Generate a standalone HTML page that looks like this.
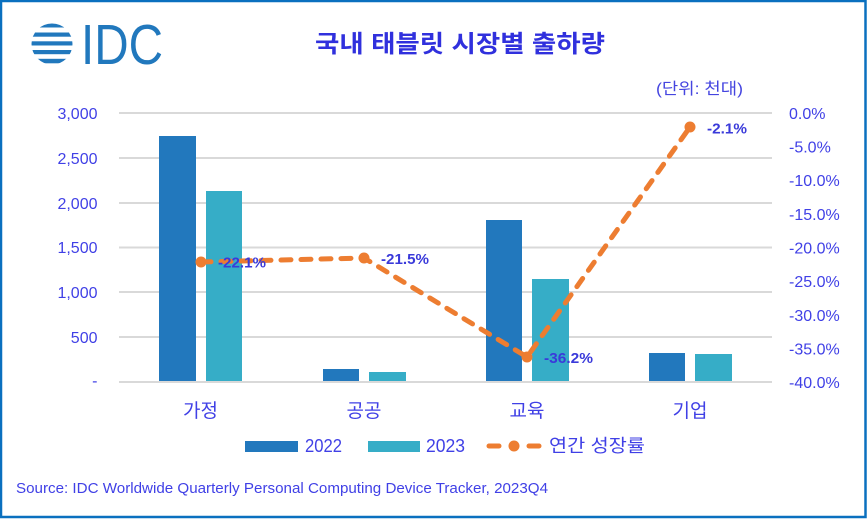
<!DOCTYPE html>
<html><head><meta charset="utf-8"><style>
html,body{margin:0;padding:0;background:#fff;}
svg{display:block;}
text{font-family:"Liberation Sans","Noto Sans CJK KR",sans-serif;}
</style></head><body>
<svg width="867" height="519" viewBox="0 0 867 519" xmlns="http://www.w3.org/2000/svg">
<rect x="0" y="0" width="867" height="519" fill="#fff"/>
<rect x="1" y="1" width="864.5" height="516" fill="none" stroke="#0A70BF" stroke-width="2.5"/>
<!-- logo -->
<defs><clipPath id="g"><circle cx="52" cy="44" r="20.5"/></clipPath></defs>
<g clip-path="url(#g)" fill="#2178BD">
<rect x="30" y="23.5" width="45" height="4"/>
<rect x="30" y="32.5" width="45" height="4.2"/>
<rect x="30" y="41.3" width="45" height="4.2"/>
<rect x="30" y="50" width="45" height="4.2"/>
<rect x="30" y="58.8" width="45" height="4.5"/>
</g>
<text x="81" y="64" font-size="57" fill="#2178BD" textLength="82" lengthAdjust="spacingAndGlyphs">IDC</text>
<!-- title -->
<text x="315" y="52" font-size="24" font-weight="bold" fill="#3030DD" textLength="290" lengthAdjust="spacingAndGlyphs">국내 태블릿 시장별 출하량</text>
<text x="656" y="94" font-size="16" fill="#4545E0" textLength="87" lengthAdjust="spacingAndGlyphs">(단위: 천대)</text>
<!-- grid -->
<g stroke="#D9D9D9" stroke-width="2">
<line x1="119" y1="113" x2="772" y2="113"/>
<line x1="119" y1="158" x2="772" y2="158"/>
<line x1="119" y1="203" x2="772" y2="203"/>
<line x1="119" y1="247.5" x2="772" y2="247.5"/>
<line x1="119" y1="292" x2="772" y2="292"/>
<line x1="119" y1="337" x2="772" y2="337"/>
<line x1="119" y1="382" x2="772" y2="382"/>
</g>
<!-- left ticks -->
<g font-size="16" fill="#4040E6" text-anchor="end">
<text x="97.5" y="119">3,000</text>
<text x="97.5" y="164">2,500</text>
<text x="97.5" y="209">2,000</text>
<text x="97.5" y="253">1,500</text>
<text x="97.5" y="298">1,000</text>
<text x="97.5" y="343">500</text>
<text x="97.5" y="386">-</text>
</g>
<!-- right ticks -->
<g font-size="16" fill="#4040E6">
<text x="789" y="119">0.0%</text>
<text x="789" y="152.6">-5.0%</text>
<text x="789" y="186.2">-10.0%</text>
<text x="789" y="219.9">-15.0%</text>
<text x="789" y="253.5">-20.0%</text>
<text x="789" y="287.1">-25.0%</text>
<text x="789" y="320.8">-30.0%</text>
<text x="789" y="354.4">-35.0%</text>
<text x="789" y="388">-40.0%</text>
</g>
<!-- bars -->
<g fill="#2278BD">
<rect x="159" y="136" width="37" height="245"/>
<rect x="323" y="369" width="36" height="12"/>
<rect x="486" y="220" width="36" height="161"/>
<rect x="649" y="353" width="36" height="28"/>
</g>
<g fill="#36ADC7">
<rect x="206" y="191" width="36" height="190"/>
<rect x="369" y="372" width="37" height="9"/>
<rect x="532" y="279" width="37" height="102"/>
<rect x="695" y="354" width="37" height="27"/>
</g>
<!-- line -->
<polyline points="201,262 364,258 527,357 690,127" fill="none" stroke="#ED7D31" stroke-width="5" stroke-dasharray="10 10" stroke-linecap="round" stroke-linejoin="round"/>
<g fill="#ED7D31">
<circle cx="201" cy="262" r="5.5"/>
<circle cx="364" cy="258" r="5.5"/>
<circle cx="527" cy="357" r="5.5"/>
<circle cx="690" cy="127" r="5.5"/>
</g>
<!-- data labels -->
<g font-size="15" font-weight="bold" fill="#3A3ADA">
<text x="218" y="267.5" textLength="48" lengthAdjust="spacingAndGlyphs">-22.1%</text>
<text x="381" y="264" textLength="48" lengthAdjust="spacingAndGlyphs">-21.5%</text>
<text x="544" y="363" textLength="49" lengthAdjust="spacingAndGlyphs">-36.2%</text>
<text x="707" y="133.5" textLength="40" lengthAdjust="spacingAndGlyphs">-2.1%</text>
</g>
<!-- categories -->
<g font-size="19" fill="#4040E6" text-anchor="middle">
<text x="200.5" y="417">가정</text>
<text x="364" y="417">공공</text>
<text x="527" y="417">교육</text>
<text x="690" y="417">기업</text>
</g>
<!-- legend -->
<rect x="245" y="441" width="53" height="11" fill="#2278BD"/>
<text x="305" y="452" font-size="18" fill="#4040E6" textLength="37" lengthAdjust="spacingAndGlyphs">2022</text>
<rect x="368" y="441" width="52" height="11" fill="#36ADC7"/>
<text x="426" y="452" font-size="18" fill="#4040E6" textLength="39" lengthAdjust="spacingAndGlyphs">2023</text>
<line x1="489" y1="446" x2="499" y2="446" stroke="#ED7D31" stroke-width="5" stroke-linecap="round"/>
<line x1="529" y1="446" x2="539" y2="446" stroke="#ED7D31" stroke-width="5" stroke-linecap="round"/>
<circle cx="514" cy="446" r="5.5" fill="#ED7D31"/>
<text x="549" y="452" font-size="18" fill="#4040E6" textLength="96" lengthAdjust="spacingAndGlyphs">연간 성장률</text>
<!-- source -->
<text x="16" y="493" font-size="15" fill="#4040E6" textLength="532" lengthAdjust="spacingAndGlyphs">Source: IDC Worldwide Quarterly Personal Computing Device Tracker, 2023Q4</text>
</svg>
</body></html>
